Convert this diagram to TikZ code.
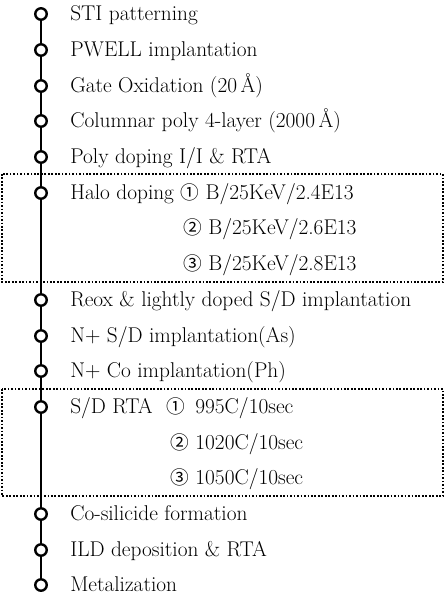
\documentclass[tikz,border=0pt]{standalone}
\usepackage{fontspec}
\newfontfamily\circfont{Noto Sans CJK SC}
\newcommand{\cnum}[1]{{\circfont\fontsize{14}{16}\selectfont #1}}
\tikzset{
  stepdot/.style={circle, draw=black, line width=1.8pt, fill=white,
    minimum size=8.6pt, inner sep=0pt},
  stepline/.style={line width=1.8pt, draw=black},
  steptext/.style={anchor=west, inner sep=0pt, text height=9pt, text depth=2pt,
    font=\fontsize{16}{18}\selectfont},
  optbox/.style={draw=black, line width=1.3pt, dash pattern=on 1.3pt off 1.3pt},
}

\begin{document}
\begin{tikzpicture}[x=0.75pt, y=-0.75pt]
  \useasboundingbox (0,0) rectangle (446,597);

  % split lots
  \draw[optbox] (2,174) rectangle (443,282);
  \draw[optbox] (2,389) rectangle (443,496);

  % process steps
  \node[stepdot] (s1)  at (41,14)  {};
  \node[stepdot] (s2)  at (41,50)  {};
  \node[stepdot] (s3)  at (41,86)  {};
  \node[stepdot] (s4)  at (41,121) {};
  \node[stepdot] (s5)  at (41,157) {};
  \node[stepdot] (s6)  at (41,193) {};
  \node[stepdot] (s7)  at (41,300) {};
  \node[stepdot] (s8)  at (41,336) {};
  \node[stepdot] (s9)  at (41,371) {};
  \node[stepdot] (s10) at (41,407) {};
  \node[stepdot] (s11) at (41,514) {};
  \node[stepdot] (s12) at (41,550) {};
  \node[stepdot] (s13) at (41,585) {};
  \foreach \a/\b in {s1/s2, s2/s3, s3/s4, s4/s5, s5/s6, s6/s7, s7/s8, s8/s9,
                     s9/s10, s10/s11, s11/s12, s12/s13}
    \draw[stepline] (\a) -- (\b);

  % labels
  \node[steptext] (t1)  at (70,16)  {STI patterning};
  \node[steptext] (t2)  at (70,52)  {PWELL implantation};
  \node[steptext] (t3)  at (70,88)  {Gate Oxidation (20\,Å)};
  \node[steptext] (t4)  at (70,123) {Columnar poly 4-layer (2000\,Å)};
  \node[steptext] (t5)  at (70,159) {Poly doping I/I \& RTA};
  \node[steptext] (t6)  at (70,195) {Halo doping \cnum{①} B/25KeV/2.4E13};
  \node[steptext] (t6b) at (183,230) {\cnum{②} B/25KeV/2.6E13};
  \node[steptext] (t6c) at (183,266) {\cnum{③} B/25KeV/2.8E13};
  \node[steptext] (t7)  at (70,302) {Reox \& lightly doped S/D implantation};
  \node[steptext] (t8)  at (70,338) {N+ S/D implantation(As)};
  \node[steptext] (t9)  at (70,373) {N+ Co implantation(Ph)};
  \node[steptext] (t10) at (70,409) {S/D RTA\hspace{10pt}\cnum{①}\hspace{8pt}995C/10sec};
  \node[steptext] (t10b) at (170,445) {\cnum{②} 1020C/10sec};
  \node[steptext] (t10c) at (170,480) {\cnum{③} 1050C/10sec};
  \node[steptext] (t11) at (70,516) {Co-silicide formation};
  \node[steptext] (t12) at (70,552) {ILD deposition \& RTA};
  \node[steptext] (t13) at (70,587) {Metalization};
\end{tikzpicture}
\end{document}
